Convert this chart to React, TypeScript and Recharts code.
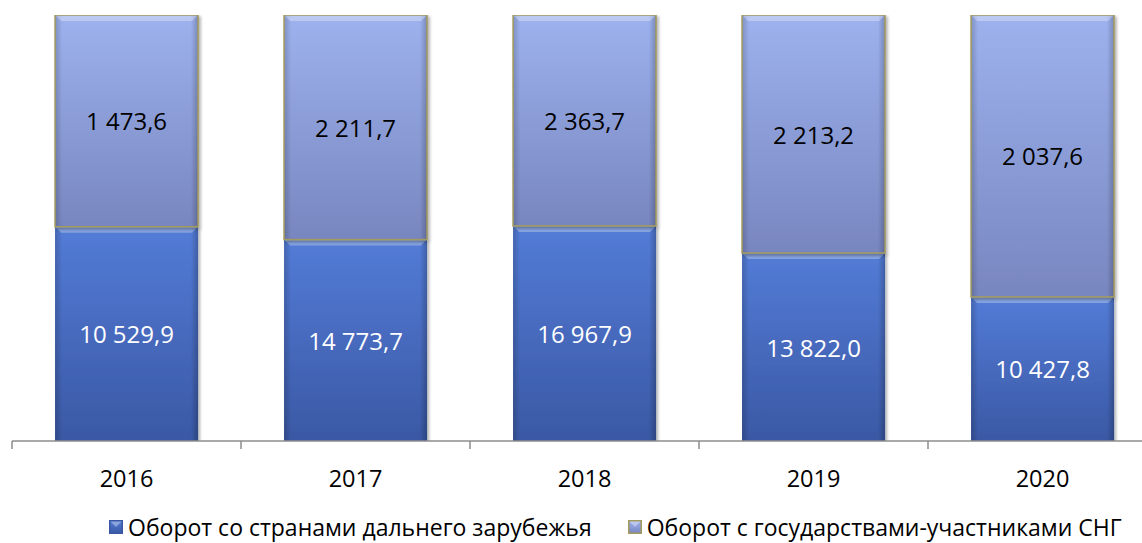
import React from "react";
import { BarChart, Bar, XAxis, YAxis, Legend, LabelList } from "recharts";

const years = ["2016", "2017", "2018", "2019", "2020"];
const farAbroad = [10529.9, 14773.7, 16967.9, 13822.0, 10427.8];
const cisCountries = [1473.6, 2211.7, 2363.7, 2213.2, 2037.6];

const seriesNames = {
  far: "Оборот со странами дальнего зарубежья",
  cis: "Оборот с государствами-участниками СНГ",
};

// 100% stacked: shares in percent, raw values kept for the labels
const data = years.map((year, i) => {
  const total = farAbroad[i] + cisCountries[i];
  return {
    year,
    far: farAbroad[i],
    cis: cisCountries[i],
    farShare: (farAbroad[i] / total) * 100,
    cisShare: (cisCountries[i] / total) * 100,
  };
});

// the value axis of the source does not start at zero
const SHARE_DOMAIN = [75.3, 100];

// chart is a bit wider than the window; the right edge gets cut like in the source picture
const CHART_W = 1170;
const CHART_H = 543;
const MARGIN = { top: 15, right: 13, left: 12, bottom: 0 };
const LEGEND_H = 40;
const XAXIS_H = 62;
const PLOT_BOTTOM = CHART_H - MARGIN.bottom - LEGEND_H - XAXIS_H;
const BAND = (CHART_W - MARGIN.left - MARGIN.right) / years.length;
const FONT = "'Open Sans', sans-serif";
const AXIS_COLOR = "#8c8c8c";

const fmt = (v: number) => {
  const [int, dec] = v.toFixed(1).split(".");
  return int.replace(/\B(?=(\d{3})+(?!\d))/g, " ") + "," + dec;
};

function BevelBar(props: any) {
  const { x, y, width, height, kind } = props;
  if (!width || !height) return null;
  const b = 6;
  const cis = kind === "cis";
  return (
    <g filter="url(#barShadow)">
      <rect
        x={x}
        y={y}
        width={width}
        height={height}
        fill={cis ? "url(#gradCis)" : "url(#gradFar)"}
      />
      <rect x={x} y={y} width={width} height={height} fill="url(#sideShade)" />
      <polygon
        points={`${x},${y} ${x + width},${y} ${x + width - b},${y + b} ${x + b},${y + b}`}
        fill="#ffffff"
        opacity={cis ? 0.3 : 0.3}
      />
      {cis && (
        <rect
          x={x}
          y={y}
          width={width}
          height={height}
          fill="none"
          stroke="#a39a5e"
          strokeWidth={1.5}
        />
      )}
    </g>
  );
}

function makeLabel(color: string) {
  return (props: any) => {
    const vb = props.viewBox ?? props;
    const { x, y, width, height } = vb;
    const bottom = Math.min(y + height, PLOT_BOTTOM);
    const cy = (y + bottom) / 2;
    return (
      <text
        x={x + width / 2}
        y={cy}
        textAnchor="middle"
        dominantBaseline="central"
        fill={color}
        fontSize={24}
        fontFamily={FONT}
      >
        {fmt(Number(props.value))}
      </text>
    );
  };
}

function YearTick(props: any) {
  const { x, y, payload, index } = props;
  const half = BAND / 2;
  return (
    <g>
      <line x1={x - half} y1={y} x2={x - half} y2={y + 8} stroke={AXIS_COLOR} strokeWidth={1.5} />
      {index === years.length - 1 && (
        <line x1={x + half} y1={y} x2={x + half} y2={y + 8} stroke={AXIS_COLOR} strokeWidth={1.5} />
      )}
      <text x={x} y={y + 46} textAnchor="middle" fill="#000" fontSize={23.5} fontFamily={FONT}>
        {payload.value}
      </text>
    </g>
  );
}

function LegendMarker({ kind }: { kind: "far" | "cis" }) {
  const cis = kind === "cis";
  return (
    <svg width={14} height={14} style={{ marginRight: 5 }}>
      <rect
        x={0.75}
        y={0.75}
        width={12.5}
        height={12.5}
        fill={cis ? "url(#gradCis)" : "url(#gradFar)"}
        stroke={cis ? "#a39a5e" : "#3a58a4"}
        strokeWidth={1.5}
      />
      <polygon points="1.5,1.5 12.5,1.5 7,7" fill="#fff" opacity={0.35} />
    </svg>
  );
}

function LegendRow() {
  return (
    <div
      style={{
        display: "flex",
        alignItems: "center",
        paddingLeft: 97,
        paddingTop: 11,
        fontFamily: FONT,
        fontSize: 23,
        lineHeight: "26px",
        color: "#000",
        whiteSpace: "nowrap",
      }}
    >
      <LegendMarker kind="far" />
      <span>{seriesNames.far}</span>
      <span style={{ width: 36 }} />
      <LegendMarker kind="cis" />
      <span>{seriesNames.cis}</span>
    </div>
  );
}

export default function App() {
  return (
    <div
      style={{
        position: "absolute",
        left: 0,
        top: 0,
        width: 1142,
        height: 543,
        overflow: "hidden",
        background: "#fff",
      }}
    >
      <svg width={0} height={0} style={{ position: "absolute" }}>
        <defs>
          <linearGradient id="gradFar" x1="0" y1="0" x2="0" y2="1">
            <stop offset="0%" stopColor="#537cd7" />
            <stop offset="100%" stopColor="#3a58a4" />
          </linearGradient>
          <linearGradient id="gradCis" x1="0" y1="0" x2="0" y2="1">
            <stop offset="0%" stopColor="#9db2ee" />
            <stop offset="100%" stopColor="#7886bf" />
          </linearGradient>
          <linearGradient id="sideShade" x1="0" y1="0" x2="1" y2="0">
            <stop offset="0%" stopColor="#000" stopOpacity={0.18} />
            <stop offset="5%" stopColor="#000" stopOpacity={0} />
            <stop offset="95%" stopColor="#000" stopOpacity={0} />
            <stop offset="100%" stopColor="#000" stopOpacity={0.22} />
          </linearGradient>
          <filter id="barShadow" x="-5%" y="-5%" width="115%" height="115%">
            <feDropShadow dx="2" dy="2" stdDeviation="1.5" floodColor="#000" floodOpacity="0.3" />
          </filter>
        </defs>
      </svg>
      <BarChart
        width={CHART_W}
        height={CHART_H}
        data={data}
        margin={MARGIN}
        barCategoryGap="18.8%"
      >
        <XAxis
          dataKey="year"
          height={XAXIS_H}
          axisLine={{ stroke: AXIS_COLOR, strokeWidth: 1.5 }}
          tickLine={false}
          tickSize={0}
          tickMargin={0}
          interval={0}
          tick={<YearTick />}
        />
        <YAxis hide type="number" domain={SHARE_DOMAIN} allowDataOverflow />
        <Legend verticalAlign="bottom" height={LEGEND_H} content={() => <LegendRow />} />
        <Bar
          dataKey="farShare"
          name={seriesNames.far}
          stackId="turnover"
          isAnimationActive={false}
          shape={(p: any) => <BevelBar {...p} kind="far" />}
        >
          <LabelList dataKey="far" content={makeLabel("#ffffff")} />
        </Bar>
        <Bar
          dataKey="cisShare"
          name={seriesNames.cis}
          stackId="turnover"
          isAnimationActive={false}
          shape={(p: any) => <BevelBar {...p} kind="cis" />}
        >
          <LabelList dataKey="cis" content={makeLabel("#000000")} />
        </Bar>
      </BarChart>
    </div>
  );
}
